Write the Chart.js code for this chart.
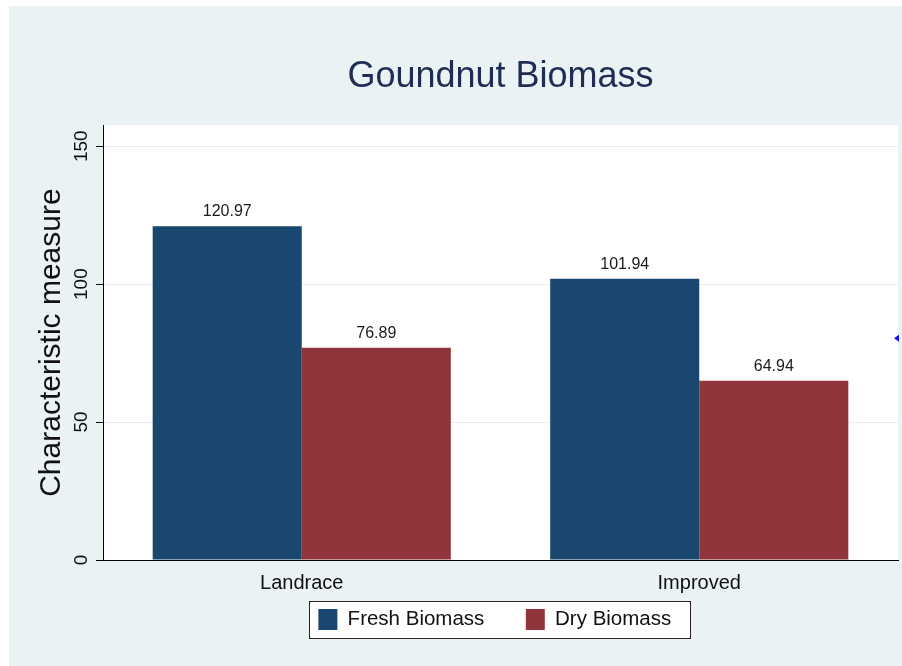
<!DOCTYPE html>
<html>
<head>
<meta charset="utf-8">
<script src="https://cdn.jsdelivr.net/npm/chart.js@4.4.0/dist/chart.umd.min.js"></script>
<style>
  html, body { margin: 0; padding: 0; background: #fff; }
  #wrap { position: absolute; left: 9px; top: 6px; width: 893px; height: 660px; background: #eaf2f3; }
  canvas { display: block; }
</style>
</head>
<body>
<div id="wrap"><canvas id="myChart" width="893" height="660"></canvas></div>
<script>
var categories = ['Landrace', 'Improved'];
var seriesNames = ['Fresh Biomass', 'Dry Biomass'];
var freshBiomass = [120.97, 101.94];
var dryBiomass = [76.89, 64.94];
var yTicks = [0, 50, 100, 150];
var yMax = 157.6;

Chart.defaults.font.family = "'Liberation Sans', Arial, sans-serif";

// trailing blanks only widen the gap between legend entries
var legendGaps = ['     ', '  '];
var legendFont = 20.5;

// white plot region + white framed legend
var backdrop = {
    id: 'backdrop',
    beforeDraw: function (chart) {
        var ctx = chart.ctx, a = chart.chartArea;
        ctx.save();
        ctx.fillStyle = '#fff';
        ctx.fillRect(a.left, a.top, a.right - a.left, a.bottom - a.top);
        var hb = chart.legend && chart.legend.legendHitBoxes;
        if (hb && hb.length) {
            var first = hb[0], last = hb[hb.length - 1];
            ctx.font = legendFont + "px 'Liberation Sans', Arial, sans-serif";
            var lastText = ctx.measureText(seriesNames[seriesNames.length - 1]).width;
            var x0 = first.left - 9, x1 = last.left + 19 + legendFont / 2 + lastText + 19;
            var y0 = first.top - 8, y1 = first.top + first.height + 8;
            ctx.fillRect(x0, y0, x1 - x0, y1 - y0);
            ctx.strokeStyle = '#222';
            ctx.lineWidth = 1;
            ctx.strokeRect(Math.round(x0) + 0.5, Math.round(y0) + 0.5, Math.round(x1 - x0), Math.round(y1 - y0));
        }
        ctx.restore();
    }
};

// vertical y tick labels like the original
var yLabels = {
    id: 'yLabels',
    afterDraw: function (chart) {
        var ctx = chart.ctx, scale = chart.scales.y;
        ctx.save();
        ctx.fillStyle = '#111';
        ctx.font = "19px 'Liberation Sans', Arial, sans-serif";
        ctx.textAlign = 'center';
        ctx.textBaseline = 'middle';
        yTicks.forEach(function (v) {
            var y = scale.getPixelForValue(v);
            ctx.save();
            ctx.translate(scale.right - 21, y);
            ctx.rotate(-Math.PI / 2);
            ctx.fillText(String(v), 0, 0);
            ctx.restore();
        });
        ctx.restore();
    }
};

// numbers above bars
var barValues = {
    id: 'barValues',
    afterDatasetsDraw: function (chart) {
        var ctx = chart.ctx;
        ctx.save();
        ctx.fillStyle = '#1a1a1a';
        ctx.font = "16px 'Liberation Sans', Arial, sans-serif";
        ctx.textAlign = 'center';
        ctx.textBaseline = 'alphabetic';
        chart.data.datasets.forEach(function (ds, i) {
            chart.getDatasetMeta(i).data.forEach(function (bar, j) {
                ctx.fillText(ds.data[j].toFixed(2), bar.x, bar.y - 10);
            });
        });
        ctx.restore();
    }
};

// little blue arrow on the right edge
var edgeMark = {
    id: 'edgeMark',
    afterDraw: function (chart) {
        var ctx = chart.ctx, a = chart.chartArea;
        var x = a.right - 4, y = a.top + 213;
        ctx.save();
        ctx.fillStyle = '#1010ff';
        ctx.beginPath();
        ctx.moveTo(x, y);
        ctx.lineTo(x + 5, y - 3.5);
        ctx.lineTo(x + 5, y + 3.5);
        ctx.closePath();
        ctx.fill();
        ctx.restore();
    }
};

var ctx = document.getElementById('myChart').getContext('2d');
var chart = new Chart(ctx, {
    type: 'bar',
    data: {
        labels: categories,
        datasets: [{
            label: seriesNames[0],
            backgroundColor: '#1a476f',
            data: freshBiomass
        }, {
            label: seriesNames[1],
            backgroundColor: '#90353b',
            data: dryBiomass
        }]
    },
    options: {
        responsive: false,
        animation: false,
        layout: { padding: { top: 0, left: 0, right: 4, bottom: 26 } },
        datasets: { bar: { barPercentage: 1, categoryPercentage: 0.75 } },
        scales: {
            x: {
                grid: { display: false, drawTicks: false },
                border: { color: '#000', width: 1 },
                ticks: { font: { size: 20 }, color: '#111', padding: 11 },
                afterFit: function (scale) { scale.height = 36; }
            },
            y: {
                min: 0,
                max: yMax,
                afterBuildTicks: function (scale) {
                    scale.ticks = yTicks.map(function (v) { return { value: v }; });
                },
                afterFit: function (scale) { scale.width = 94; },
                ticks: { display: false },
                grid: {
                    color: function (c) { return c.tick && c.tick.value === 0 ? 'rgba(0,0,0,0)' : '#e6eef1'; },
                    tickColor: '#000',
                    tickLength: 7,
                    lineWidth: 1
                },
                border: { color: '#000', width: 1 },
                title: {
                    display: true,
                    text: 'Characteristic measure',
                    font: { size: 30 },
                    color: '#111',
                    padding: { top: 25, bottom: 0 }
                }
            }
        },
        plugins: {
            title: {
                display: true,
                text: 'Goundnut Biomass',
                fullSize: false,
                font: { size: 36, weight: 'normal' },
                color: '#1f2d54',
                padding: { top: 49, bottom: 27 }
            },
            legend: {
                position: 'bottom',
                fullSize: false,
                labels: {
                    boxWidth: 19,
                    boxHeight: 21,
                    padding: 13,
                    font: { size: legendFont },
                    color: '#111',
                    generateLabels: function (chart) {
                        var items = Chart.defaults.plugins.legend.labels.generateLabels(chart);
                        items.forEach(function (it, i) { it.text = seriesNames[i] + legendGaps[i]; });
                        return items;
                    }
                }
            },
            tooltip: { enabled: false }
        }
    },
    plugins: [backdrop, yLabels, barValues, edgeMark]
});
</script>
</body>
</html>
